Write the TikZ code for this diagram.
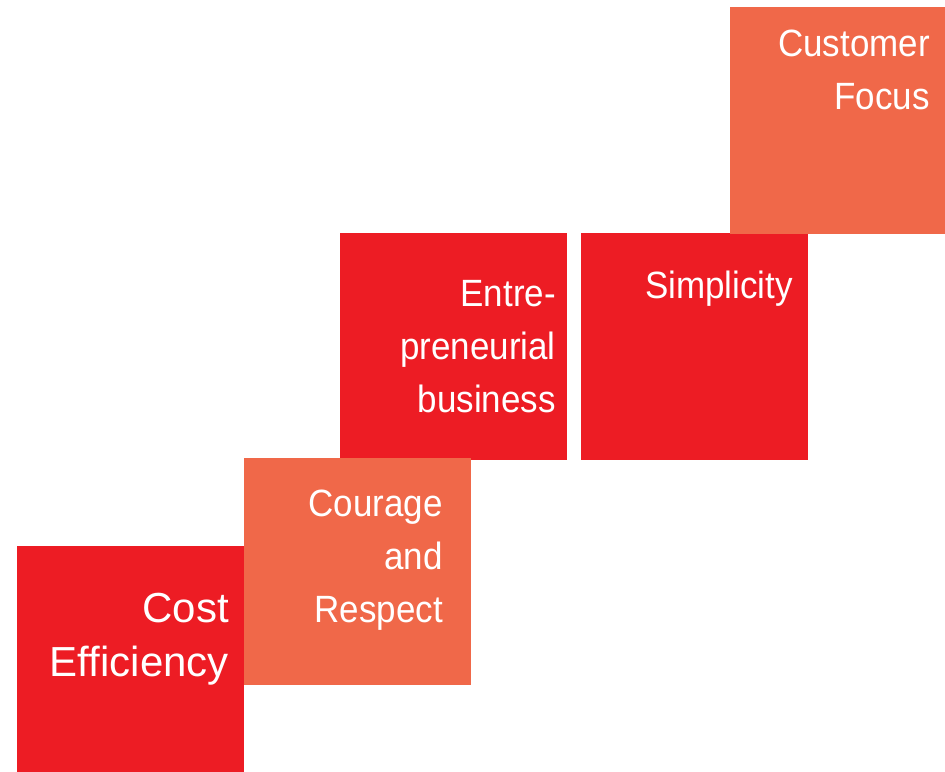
\documentclass[tikz,border=0pt]{standalone}
\usepackage{fontspec}
\setmainfont{Liberation Sans}[FakeStretch=0.92]
\newfontfamily\widefont{Liberation Sans}
\definecolor{boxred}{HTML}{ED1C24}
\definecolor{boxorange}{HTML}{F06849}
\begin{document}
\begin{tikzpicture}[x=1pt,y=-1pt,
  tile/.style={draw=none,rectangle,inner sep=0pt,anchor=north west},
  redtile/.style={tile,fill=boxred},
  orangetile/.style={tile,fill=boxorange},
  label/.style={anchor=north east,inner sep=0pt,align=right,text=white,
    font=\fontsize{38}{53}\selectfont},
  biglabel/.style={label,font=\widefont\fontsize{42}{54}\selectfont}]
\useasboundingbox (0,0) rectangle (945,771);
\begin{scope}
\clip (0,0) rectangle (945,771);
% tiles
\node[redtile,minimum width=227pt,minimum height=227pt] (entre) at (340,233) {};
\node[redtile,minimum width=227pt,minimum height=227pt] (simp) at (581,233) {};
\node[orangetile,minimum width=227pt,minimum height=226.5pt] (cust) at (730,7) {};
\node[redtile,minimum width=226.5pt,minimum height=226pt] (cost) at (17,546) {};
\node[orangetile,minimum width=227pt,minimum height=226.5pt] (cour) at (244,458) {};
\end{scope}
% labels
\node[label] (custtext) at (930,30) {Customer\\Focus};
\node[label] (simptext) at (793,271) {Simplicity};
\node[label] (entretext) at (556,280) {Entre-\\preneurial\\business};
\node[label] (courtext) at (443,490) {Courage\\and\\Respect};
\node[biglabel] (costtext) at (229,593) {Cost\\Efficiency};
\end{tikzpicture}
\end{document}
